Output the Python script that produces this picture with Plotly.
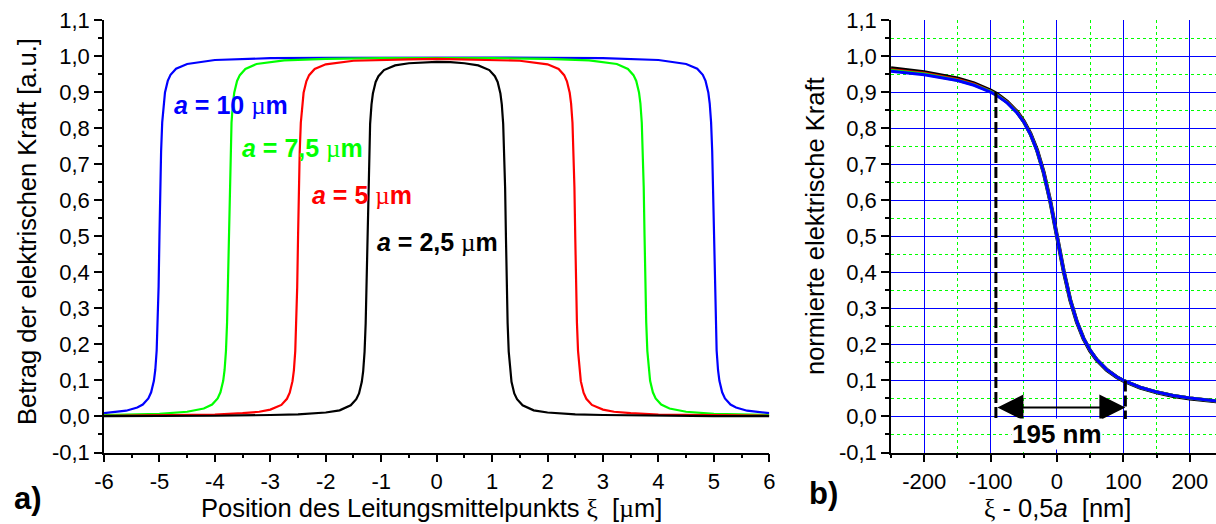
import plotly.graph_objects as go

FONT = "Liberation Sans, Arial, sans-serif"
SERIF = "Liberation Serif, Times New Roman, serif"
W, H = 1216, 524

# ---------------- panel a): force across the conductor, ξ in µm ----------------
xi_a10 = [-6, -5.8, -5.6, -5.4, -5.3, -5.2, -5.15, -5.1, -5.075, -5.05, -5.03, -5.015, -5.0,
          -4.985, -4.97, -4.95, -4.925, -4.9, -4.85, -4.8, -4.7, -4.5, -4.0, -3.0, -2.0, -1.0, 0,
          1.0, 2.0, 3.0, 4.0, 4.5, 4.7, 4.8, 4.85, 4.9, 4.925, 4.95, 4.97, 4.985,
          5.0, 5.015, 5.03, 5.05, 5.075, 5.1, 5.15, 5.2, 5.3, 5.4, 5.6, 5.8, 6]
force_a10 = [0.009, 0.012, 0.016, 0.025, 0.033, 0.050, 0.067, 0.099, 0.129, 0.183, 0.262, 0.361, 0.499,
             0.637, 0.736, 0.816, 0.869, 0.899, 0.931, 0.948, 0.965, 0.978, 0.989, 0.994, 0.995, 0.996, 0.996,
             0.996, 0.995, 0.994, 0.989, 0.978, 0.965, 0.948, 0.931, 0.899, 0.869, 0.816, 0.736, 0.637,
             0.499, 0.361, 0.262, 0.183, 0.129, 0.099, 0.067, 0.050, 0.033, 0.025, 0.016, 0.012, 0.009]

xi_a75 = [-6, -5, -4.5, -4.2, -4.05, -3.95, -3.9, -3.85, -3.825, -3.8, -3.78, -3.765, -3.75,
          -3.735, -3.72, -3.7, -3.675, -3.65, -3.6, -3.55, -3.45, -3.25, -2.75, -2, -1, 0,
          1, 2, 2.75, 3.25, 3.45, 3.55, 3.6, 3.65, 3.675, 3.7, 3.72, 3.735,
          3.75, 3.765, 3.78, 3.8, 3.825, 3.85, 3.9, 3.95, 4.05, 4.2, 4.5, 5, 6]
force_a75 = [0.004, 0.007, 0.013, 0.022, 0.033, 0.050, 0.067, 0.099, 0.129, 0.182, 0.261, 0.361, 0.499,
             0.636, 0.736, 0.815, 0.869, 0.899, 0.931, 0.947, 0.964, 0.978, 0.988, 0.992, 0.994, 0.995,
             0.994, 0.992, 0.988, 0.978, 0.964, 0.947, 0.931, 0.899, 0.869, 0.815, 0.736, 0.636,
             0.499, 0.361, 0.261, 0.182, 0.129, 0.099, 0.067, 0.050, 0.033, 0.022, 0.013, 0.007, 0.004]

xi_a5 = [-6, -5, -4, -3.5, -3.2, -3.0, -2.8, -2.7, -2.65, -2.6, -2.575, -2.55, -2.53, -2.515, -2.5,
         -2.485, -2.47, -2.45, -2.425, -2.4, -2.35, -2.3, -2.2, -2.0, -1.5, -1.0, -0.5, 0,
         0.5, 1.0, 1.5, 2.0, 2.2, 2.3, 2.35, 2.4, 2.425, 2.45, 2.47, 2.485,
         2.5, 2.515, 2.53, 2.55, 2.575, 2.6, 2.65, 2.7, 2.8, 3.0, 3.2, 3.5, 4, 5, 6]
force_a5 = [0.002, 0.003, 0.005, 0.009, 0.013, 0.019, 0.032, 0.049, 0.066, 0.098, 0.128, 0.182, 0.261, 0.360, 0.498,
            0.636, 0.735, 0.815, 0.868, 0.898, 0.930, 0.947, 0.964, 0.977, 0.987, 0.990, 0.991, 0.992,
            0.991, 0.990, 0.987, 0.977, 0.964, 0.947, 0.930, 0.898, 0.868, 0.815, 0.735, 0.636,
            0.498, 0.360, 0.261, 0.182, 0.128, 0.098, 0.066, 0.049, 0.032, 0.019, 0.013, 0.009, 0.005, 0.003, 0.002]

xi_a25 = [-6, -5, -4, -3, -2.5, -2.0, -1.75, -1.55, -1.45, -1.4, -1.35, -1.325, -1.3, -1.28, -1.265, -1.25,
          -1.235, -1.22, -1.2, -1.175, -1.15, -1.1, -1.05, -0.95, -0.75, -0.5, -0.25, 0,
          0.25, 0.5, 0.75, 0.95, 1.05, 1.1, 1.15, 1.175, 1.2, 1.22, 1.235,
          1.25, 1.265, 1.28, 1.3, 1.325, 1.35, 1.4, 1.45, 1.55, 1.75, 2.0, 2.5, 3, 4, 5, 6]
force_a25 = [0.001, 0.001, 0.002, 0.004, 0.006, 0.011, 0.017, 0.031, 0.048, 0.064, 0.096, 0.126, 0.180, 0.259, 0.358, 0.496,
             0.634, 0.733, 0.812, 0.866, 0.896, 0.928, 0.944, 0.961, 0.974, 0.980, 0.983, 0.984,
             0.983, 0.980, 0.974, 0.961, 0.944, 0.928, 0.896, 0.866, 0.812, 0.733, 0.634,
             0.496, 0.358, 0.259, 0.180, 0.126, 0.096, 0.064, 0.048, 0.031, 0.017, 0.011, 0.006, 0.004, 0.002, 0.001, 0.001]

# ---------------- panel b): normalised force around the edge, ξ - a/2 in nm ----------------
edge_nm = [-250, -200, -150, -125, -100, -90, -75, -60, -50, -40, -30, -20, -10, 0,
           10, 20, 30, 40, 50, 60, 75, 90, 100, 125, 150, 175, 200, 250]
norm_a25 = [0.966, 0.955, 0.938, 0.924, 0.904, 0.894, 0.873, 0.845, 0.819, 0.785, 0.739, 0.677, 0.596, 0.500,
            0.404, 0.323, 0.262, 0.216, 0.182, 0.157, 0.129, 0.109, 0.099, 0.080, 0.067, 0.057, 0.050, 0.040]
norm_a5 = [0.962, 0.952, 0.935, 0.922, 0.902, 0.892, 0.872, 0.844, 0.818, 0.784, 0.738, 0.677, 0.596, 0.500,
           0.405, 0.324, 0.263, 0.217, 0.183, 0.158, 0.130, 0.110, 0.100, 0.081, 0.068, 0.058, 0.051, 0.041]
norm_a75 = [0.960, 0.950, 0.933, 0.920, 0.901, 0.891, 0.871, 0.843, 0.817, 0.783, 0.737, 0.676, 0.595, 0.500,
            0.405, 0.324, 0.263, 0.217, 0.184, 0.158, 0.130, 0.110, 0.100, 0.081, 0.068, 0.058, 0.051, 0.041]
norm_a10 = [0.958, 0.948, 0.932, 0.919, 0.900, 0.890, 0.870, 0.842, 0.817, 0.783, 0.737, 0.676, 0.595, 0.500,
            0.405, 0.324, 0.263, 0.217, 0.184, 0.158, 0.130, 0.110, 0.100, 0.081, 0.068, 0.058, 0.051, 0.041]

# transition width between 90 % and 10 % of the force
width_lo_nm = -92
width_hi_nm = 103
level_hi = 0.9
level_lo = 0.1
arrow_level = 0.025
dash_floor = -0.007

# ---------------- ticks ----------------
x_ticks_a = [-6, -5, -4, -3, -2, -1, 0, 1, 2, 3, 4, 5, 6]
x_tick_text_a = ["-6", "-5", "-4", "-3", "-2", "-1", "0", "1", "2", "3", "4", "5", "6"]
x_ticks_b = [-200, -100, 0, 100, 200]
x_tick_text_b = ["-200", "-100", "0", "100", "200"]
y_ticks = [-0.1, 0.0, 0.1, 0.2, 0.3, 0.4, 0.5, 0.6, 0.7, 0.8, 0.9, 1.0, 1.1]
y_tick_text = ["-0,1", "0,0", "0,1", "0,2", "0,3", "0,4", "0,5", "0,6", "0,7", "0,8", "0,9", "1,0", "1,1"]

BLUE, GREEN, RED, BLACK = "#0000ff", "#00ff00", "#ff0000", "#000000"
TITLE_SIZE = 25.5


def px_x(p):
    return p / W


def px_y(p):
    return 1 - p / H


fig = go.Figure()

for xs, ys, col in [(xi_a10, force_a10, BLUE), (xi_a75, force_a75, GREEN),
                    (xi_a5, force_a5, RED), (xi_a25, force_a25, BLACK)]:
    fig.add_trace(go.Scatter(x=xs, y=ys, mode="lines", line=dict(color=col, width=2.2),
                             xaxis="x", yaxis="y", showlegend=False, hoverinfo="skip"))

for ys, col, lw in [(norm_a25, BLACK, 4), (norm_a5, RED, 3), (norm_a75, GREEN, 3), (norm_a10, BLUE, 3)]:
    fig.add_trace(go.Scatter(x=edge_nm, y=ys, mode="lines", line=dict(color=col, width=lw),
                             xaxis="x2", yaxis="y2", showlegend=False, hoverinfo="skip"))

# dashed markers of the 90 % and 10 % positions
fig.add_trace(go.Scatter(x=[width_lo_nm, width_lo_nm], y=[level_hi, dash_floor], mode="lines",
                         line=dict(color=BLACK, width=3, dash="11px,4px"),
                         xaxis="x2", yaxis="y2", showlegend=False, hoverinfo="skip"))
fig.add_trace(go.Scatter(x=[width_hi_nm, width_hi_nm], y=[level_lo, dash_floor], mode="lines",
                         line=dict(color=BLACK, width=3, dash="11px,4px"),
                         xaxis="x2", yaxis="y2", showlegend=False, hoverinfo="skip"))

tickfont = dict(family=FONT, size=22, color="black")
axis_common = dict(showline=True, linecolor="black", linewidth=1.5, ticks="outside",
                   ticklen=8, tickwidth=1.5, tickcolor="black", zeroline=False,
                   tickfont=tickfont, tickmode="array", automargin=False)

y_dom = [px_y(452.5), px_y(20)]

fig.update_layout(
    width=W, height=H,
    margin=dict(l=0, r=0, t=0, b=0, pad=0, autoexpand=False),
    paper_bgcolor="white", plot_bgcolor="rgba(0,0,0,0)",
    font=dict(family=FONT, size=22, color="black"),
    xaxis=dict(domain=[px_x(104), px_x(769.3)], range=[-6, 6], anchor="y",
               tickvals=x_ticks_a, ticktext=x_tick_text_a, showgrid=False,
               minor=dict(dtick=0.5, tick0=0, ticks="outside", ticklen=4, tickwidth=1.5,
                          tickcolor="black", showgrid=False),
               **axis_common),
    yaxis=dict(domain=y_dom, range=[-0.1, 1.1], anchor="x",
               tickvals=y_ticks, ticktext=y_tick_text, showgrid=False,
               minor=dict(dtick=0.05, tick0=0, ticks="outside", ticklen=4, tickwidth=1.5,
                          tickcolor="black", showgrid=False),
               **axis_common),
    xaxis2=dict(domain=[px_x(891), 1], range=[-250, 239.5], anchor="y2",
                tickvals=x_ticks_b, ticktext=x_tick_text_b,
                showgrid=True, gridcolor=BLUE, gridwidth=1,
                minor=dict(dtick=50, tick0=0, ticks="outside", ticklen=4, tickwidth=1.5,
                           tickcolor="black", showgrid=True, gridcolor=GREEN,
                           griddash="dot", gridwidth=1),
                **axis_common),
    yaxis2=dict(domain=y_dom, range=[-0.1, 1.1], anchor="x2",
                tickvals=y_ticks, ticktext=y_tick_text,
                showgrid=True, gridcolor=BLUE, gridwidth=1,
                minor=dict(dtick=0.05, tick0=0, ticks="outside", ticklen=4, tickwidth=1.5,
                           tickcolor="black", showgrid=True, gridcolor=GREEN,
                           griddash="dot", gridwidth=1),
                **axis_common),
)

mu = f"<span style='font-family:{SERIF};font-weight:normal'>µ</span>"
xi = f"<span style='font-family:{SERIF}'>ξ</span>"

# curve labels in panel a)
for txt, col, x0, y0 in [("10", BLUE, -4.77, 0.864), ("7,5", GREEN, -3.55, 0.744),
                         ("5", RED, -2.28, 0.615), ("2,5", BLACK, -1.115, 0.484)]:
    fig.add_annotation(x=x0, y=y0, xref="x", yref="y", xanchor="left", yanchor="middle",
                       text=f"<b><i>a</i> = {txt} </b>{mu}<b>m</b>", showarrow=False,
                       font=dict(family=FONT, size=25, color=col))

# axis titles
fig.add_annotation(x=px_x(431), y=0, xref="paper", yref="paper", showarrow=False,
                   text=f"Position des Leitungsmittelpunkts {xi}\u00a0 [{mu}m]", borderpad=0,
                   font=dict(family=FONT, size=TITLE_SIZE), xanchor="center", yanchor="bottom")
fig.add_annotation(x=px_x(27), y=px_y(232), xref="paper", yref="paper", showarrow=False,
                   text="Betrag der elektrischen Kraft [a.u.]", textangle=-90,
                   font=dict(family=FONT, size=TITLE_SIZE), xanchor="center", yanchor="middle")
fig.add_annotation(x=px_x(1057), y=0, xref="paper", yref="paper", showarrow=False,
                   text=f"{xi} - 0,5<i>a</i>\u00a0 [nm]", borderpad=0,
                   font=dict(family=FONT, size=TITLE_SIZE), xanchor="center", yanchor="bottom")
fig.add_annotation(x=px_x(815), y=px_y(226), xref="paper", yref="paper", showarrow=False,
                   text="normierte elektrische Kraft", textangle=-90,
                   font=dict(family=FONT, size=TITLE_SIZE), xanchor="center", yanchor="middle")

# panel letters
fig.add_annotation(x=px_x(28), y=px_y(498), xref="paper", yref="paper", showarrow=False,
                   text="<b>a)</b>", font=dict(family=FONT, size=31),
                   xanchor="center", yanchor="middle")
fig.add_annotation(x=px_x(823), y=px_y(493), xref="paper", yref="paper", showarrow=False,
                   text="<b>b)</b>", font=dict(family=FONT, size=31),
                   xanchor="center", yanchor="middle")

# double arrow and width label
fig.add_annotation(x=width_hi_nm, y=arrow_level, ax=width_lo_nm, ay=arrow_level,
                   xref="x2", yref="y2", axref="x2", ayref="y2", text="",
                   showarrow=True, arrowside="end+start", arrowhead=2, startarrowhead=2,
                   arrowsize=2.6, startarrowsize=2.6, arrowwidth=2, arrowcolor=BLACK,
                   standoff=0, startstandoff=0)
fig.add_annotation(x=0, y=-0.05, xref="x2", yref="y2", showarrow=False,
                   text=f"<b>{width_hi_nm - width_lo_nm} nm</b>", bgcolor="white",
                   borderpad=0, font=dict(family=FONT, size=26, color=BLACK),
                   xanchor="center", yanchor="middle")

fig.write_html("out.html")
